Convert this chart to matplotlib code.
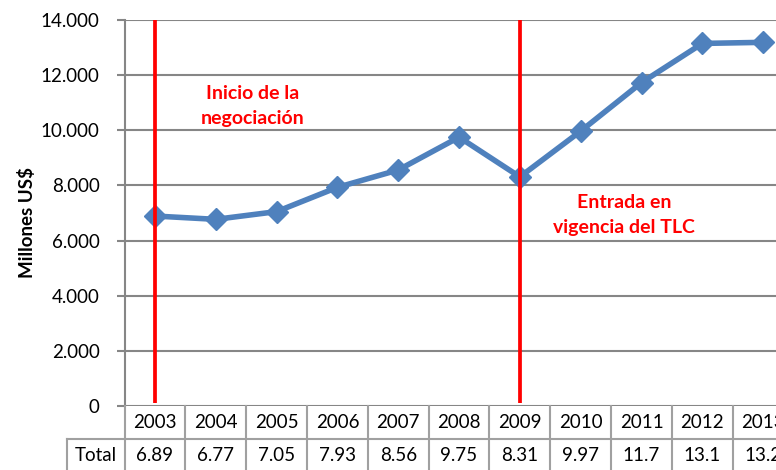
import matplotlib
matplotlib.use("Agg")
import matplotlib.pyplot as plt
from matplotlib.ticker import FuncFormatter

years = ["2003", "2004", "2005", "2006", "2007", "2008", "2009", "2010", "2011", "2012", "2013"]
values = [6890, 6770, 7050, 7930, 8560, 9750, 8310, 9970, 11730, 13150, 13190]
table_labels = ["6.89", "6.77", "7.05", "7.93", "8.56", "9.75", "8.31", "9.97", "11.7", "13.1", "13.2"]
event_idx = [0, 6]
event_texts = [["Inicio de la", "negociación"], ["Entrada en", "vigencia del TLC"]]

plt.rcParams['font.family'] = ['Lato', 'DejaVu Sans']
FS = 13.5
W, H = 776, 470
fig = plt.figure(figsize=(W / 100, H / 100), dpi=100)

def fx(px):
    return px / W

def fy(py):
    return (H - py) / H

left_px, right_px, top_px, bot_px = 124.5, 793.6, 20, 406
ax = fig.add_axes([fx(left_px), fy(bot_px), fx(right_px) - fx(left_px), fy(top_px) - fy(bot_px)])
ax.set_xlim(-0.5, len(years) - 0.5)
ax.set_ylim(0, 14000)
ax.set_yticks(range(0, 14001, 2000))
ax.yaxis.set_major_formatter(FuncFormatter(lambda v, p: f"{int(v):,}".replace(",", ".")))
ax.set_xticks([])
for s in ["top", "right", "bottom"]:
    ax.spines[s].set_visible(False)
ax.spines["left"].set_color("#868686")
ax.spines["left"].set_linewidth(1.5)
ax.tick_params(axis="y", length=6, width=1.5, color="#868686", labelsize=FS, pad=12, labelcolor="black")
ax.grid(axis="y", color="#868686", linewidth=1.5)
ax.set_axisbelow(True)

xs = list(range(len(years)))
ax.plot(xs, values, color="#4F81BD", linewidth=4, marker="D", markersize=11, zorder=3, clip_on=False)

for i in event_idx:
    ax.vlines(i, 110, 14000, color="#FF0000", linewidth=2.7, zorder=4)

# annotation texts
ax.text(1.613, 11135, event_texts[0][0], color="#FF0000", fontsize=FS + 0.5, fontweight="bold", ha="center", va="baseline")
ax.text(1.613, 10228, event_texts[0][1], color="#FF0000", fontsize=FS + 0.5, fontweight="bold", ha="center", va="baseline")
ax.text(7.715, 7181, event_texts[1][0], color="#FF0000", fontsize=FS + 0.5, fontweight="bold", ha="center", va="baseline")
ax.text(7.715, 6275, event_texts[1][1], color="#FF0000", fontsize=FS + 0.5, fontweight="bold", ha="center", va="baseline")

fig.text(fx(27), fy(222), "Millones US$", rotation=90, fontsize=FS, fontweight="bold", ha="center", va="center")

# data table
tb = fig.add_axes([fx(left_px), fy(472), fx(right_px) - fx(left_px), fy(406) - fy(472)])
tb.set_xlim(-0.5, len(years) - 0.5)
tb.set_ylim(0, 2)
tb.axis("off")
lc = "#A0A0A0"
lw = 1.5
n = len(years)
total_left = (67 - left_px) / ((right_px - left_px) / n) - 0.5
tb.plot([-0.5, n - 0.5], [1, 1], color=lc, lw=lw, clip_on=False)
tb.plot([total_left, -0.5], [1, 1], color=lc, lw=lw, clip_on=False)
tb.plot([total_left, n - 0.5], [0, 0], color=lc, lw=lw, clip_on=False)
tb.plot([total_left, total_left], [0, 1], color=lc, lw=lw, clip_on=False)
for k in range(n + 1):
    tb.plot([k - 0.5, k - 0.5], [0, 2], color=lc, lw=lw, clip_on=False)
for i, (yr, lab) in enumerate(zip(years, table_labels)):
    tb.text(i, 1.5, yr, ha="center", va="center", fontsize=FS)
    tb.text(i, 0.5, lab, ha="center", va="center", fontsize=FS)
tb.text((total_left - 0.5) / 2, 0.5, "Total", ha="center", va="center", fontsize=FS)

fig.savefig("out.png", dpi=100)
